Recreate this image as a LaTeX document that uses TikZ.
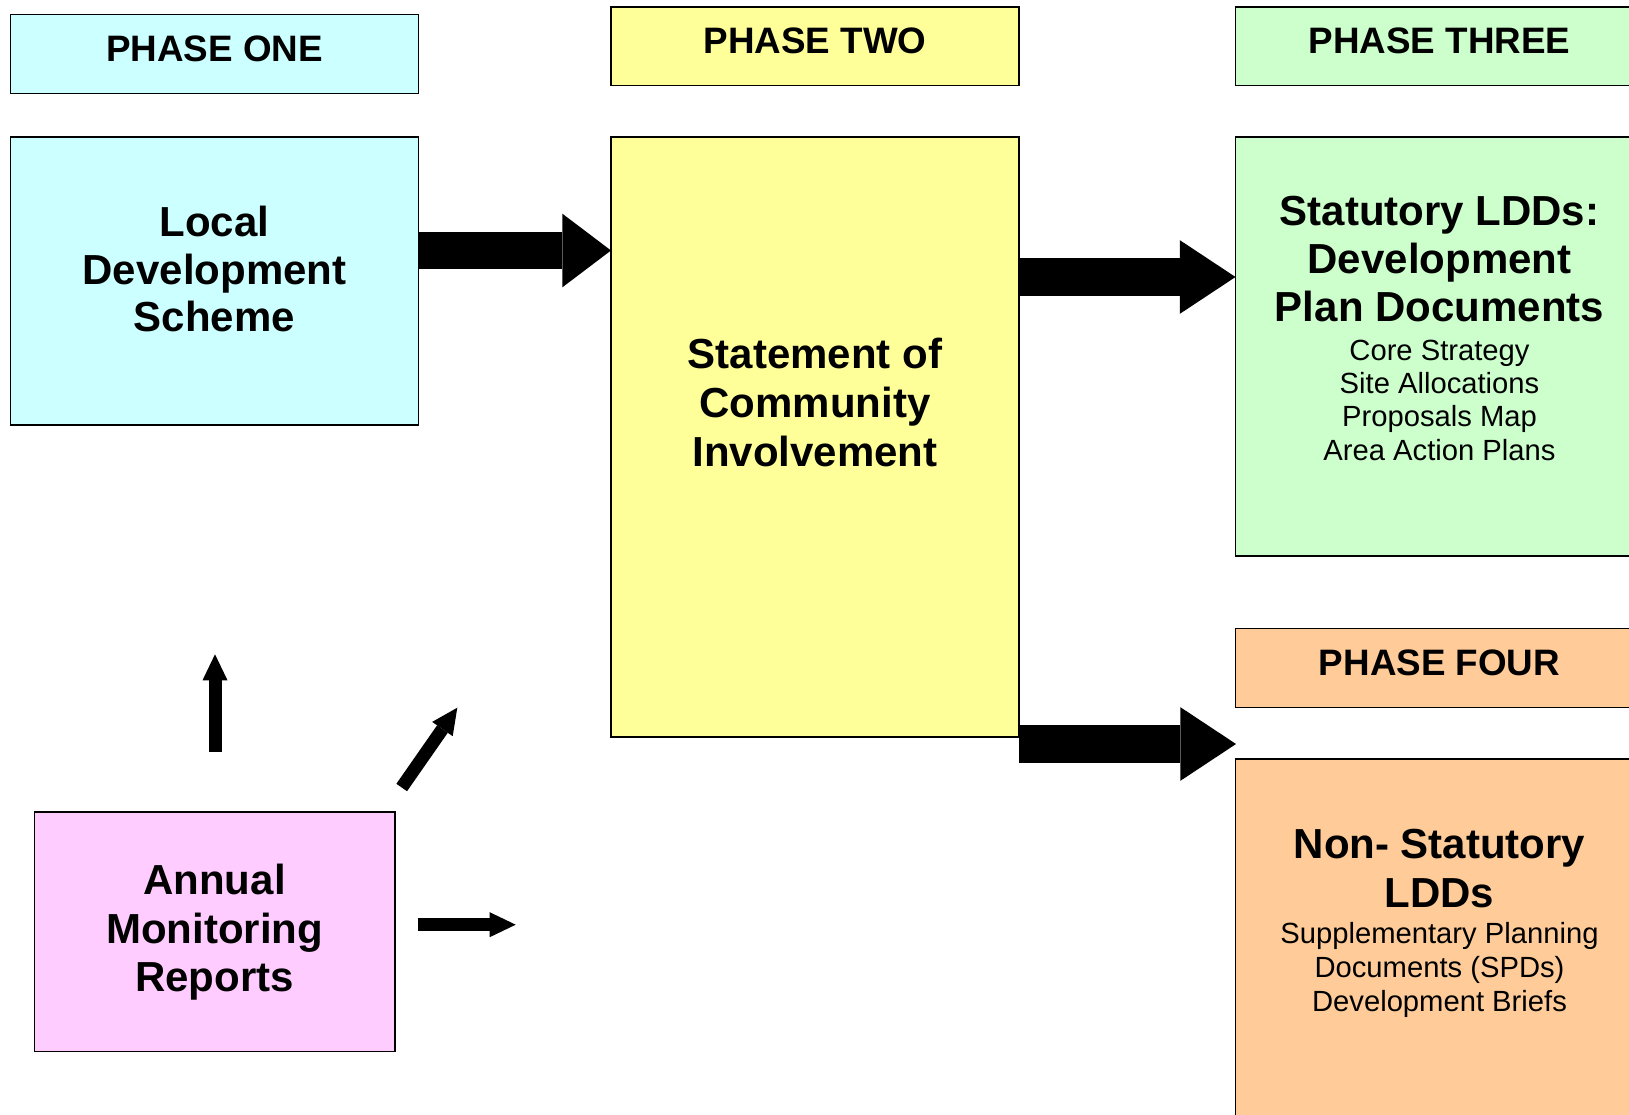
\documentclass[tikz,border=0pt]{standalone}
\usepackage{fontspec}
\setmainfont{Liberation Sans}
\usetikzlibrary{arrows.meta}
\definecolor{cyanbox}{HTML}{CCFFFF}
\definecolor{yellowbox}{HTML}{FFFF99}
\definecolor{greenbox}{HTML}{CCFFCC}
\definecolor{orangebox}{HTML}{FFCC99}
\definecolor{pinkbox}{HTML}{FFCCFF}
\begin{document}
\begin{tikzpicture}[x=1pt,y=-1pt,
  box/.style={draw=black, line width=1.6pt, inner sep=0pt, outer sep=0pt, anchor=north west},
  phasetxt/.style={inner sep=0pt, anchor=base, font=\fontsize{36.8}{42}\selectfont\bfseries},
  bigtxt/.style={inner sep=0pt, anchor=base, align=center, font=\fontsize{42}{#1}\selectfont\bfseries},
  smalltxt/.style={inner sep=0pt, anchor=base, align=center, font=\fontsize{29.2}{#1}\selectfont},
  bigarrow/.style={line width=37.7pt, -{Triangle[length=#1, width=73.7pt, line width=0pt]}},
  smallarrow/.style={line width=13pt, -{Triangle[length=26pt, width=25pt, line width=0pt]}}
]
\clip (0,0) rectangle (1629,1115);
\fill[white] (0,0) rectangle (1629,1115);

% boxes
\node[box, fill=cyanbox, minimum width=408pt, minimum height=79pt] (p1) at (10.5,14.5) {};
\node[box, fill=yellowbox, minimum width=408pt, minimum height=78.5pt] (p2) at (611,7) {};
\node[box, fill=greenbox, minimum width=408pt, minimum height=78.5pt] (p3) at (1235.5,7) {};
\node[box, fill=cyanbox, minimum width=408pt, minimum height=287.5pt] (lds) at (10.5,137.3) {};
\node[box, fill=yellowbox, minimum width=408pt, minimum height=599.4pt] (sci) at (611,137.3) {};
\node[box, fill=greenbox, minimum width=408pt, minimum height=418.5pt] (stat) at (1235.5,137.3) {};
\node[box, fill=orangebox, minimum width=408pt, minimum height=79pt] (p4) at (1235.5,628.3) {};
\node[box, fill=orangebox, minimum width=408pt, minimum height=400pt] (nonstat) at (1235.5,759) {};
\node[box, fill=pinkbox, minimum width=360.5pt, minimum height=239.7pt] (amr) at (34.3,811.7) {};

% texts (anchor=base is the baseline of the last line)
\node[phasetxt] (t1) at (214.5,61.7) {PHASE ONE};
\node[phasetxt] (t2) at (815,53.3) {PHASE TWO};
\node[phasetxt] (t3) at (1439.5,53.3) {PHASE THREE};
\node[phasetxt] (t4) at (1439.5,675) {PHASE FOUR};
\node[bigtxt=47.5] (tlds) at (214.5,331.7) {Local\\Development\\Scheme};
\node[bigtxt=49.2] (tsci) at (815,466.7) {Statement of\\Community\\Involvement};
\node[bigtxt=48.3] (tstat) at (1439.5,321.7) {Statutory LDDs:\\Development\\Plan Documents};
\node[smalltxt=33.3] (sstat) at (1439.5,460) {Core Strategy\\Site Allocations\\Proposals Map\\Area Action Plans};
\node[bigtxt=48.5] (tnon) at (1439.5,907) {Non- Statutory\\LDDs};
\node[smalltxt=34.2] (snon) at (1439.5,1011.7) {Supplementary Planning\\Documents (SPDs)\\Development Briefs};
\node[bigtxt=48.4] (tamr) at (214.5,991.7) {Annual\\Monitoring\\Reports};

% big arrows
\coordinate (r1) at (0,250.5);
\coordinate (r2) at (0,277);
\coordinate (r3) at (0,744);
\coordinate (a3end) at (1236,744);
\draw[bigarrow=48.7pt] (lds.east |- r1) -- (sci.west |- r1);
\draw[bigarrow=55.7pt] (sci.east |- r2) -- (stat.west |- r2);
\draw[bigarrow=55.7pt] (sci.east |- r3) -- (a3end);

% small arrows from the monitoring reports
\coordinate (upfrom) at (215,751.7);
\coordinate (upto) at (215,654.3);
\coordinate (dgfrom) at (401.7,787.5);
\coordinate (dgto) at (457.3,707.7);
\coordinate (rtfrom) at (418.3,924.7);
\coordinate (rtto) at (515.7,924.7);
\draw[smallarrow] (upfrom) -- (upto);
\draw[smallarrow] (dgfrom) -- (dgto);
\draw[smallarrow] (rtfrom) -- (rtto);
\end{tikzpicture}
\end{document}
